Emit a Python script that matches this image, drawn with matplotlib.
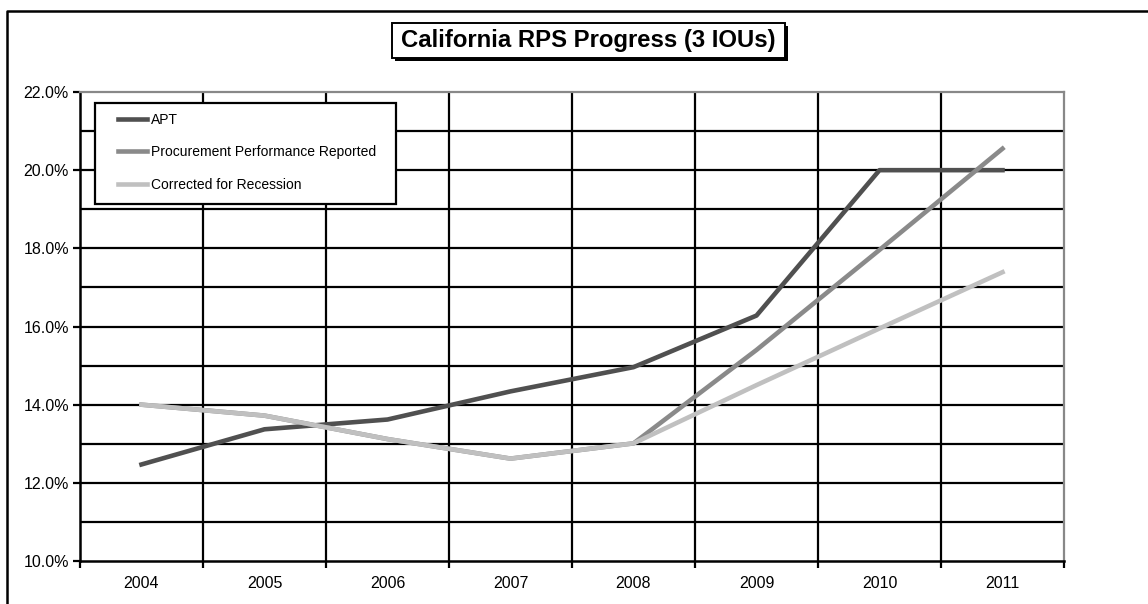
import numpy as np
import matplotlib.pyplot as plt
from matplotlib.lines import Line2D
from matplotlib.patches import Rectangle

plt.rcParams['font.family'] = ['Liberation Sans', 'DejaVu Sans']

years = ['2004', '2005', '2006', '2007', '2008', '2009', '2010', '2011']
apt = [12.47, 13.37, 13.62, 14.34, 14.96, 16.28, 20.0, 20.0]
procurement = [14.0, 13.72, 13.12, 12.62, 13.01, 15.4, 17.96, 20.55]
recession = [14.0, 13.72, 13.12, 12.62, 13.01, 14.5, 15.95, 17.39]

W, H = 1148, 604
fig = plt.figure(figsize=(W/100, H/100), dpi=100)
ax = fig.add_axes([80/W, 1-561/H, (1064-80)/W, (561-92)/H])

x = np.arange(len(years))
ax.plot(x, apt, color='#505050', lw=3.3, label='APT', zorder=5)
ax.plot(x, procurement, color='#8a8a8a', lw=3.3, label='Procurement Performance Reported', zorder=6)
ax.plot(x, recession, color='#c0c0c0', lw=3.3, label='Corrected for Recession', zorder=7)

ax.set_xlim(-0.5, len(years) - 0.5)
ax.set_ylim(10, 22)

# grid: horizontal every 1%, vertical at category boundaries
for yv in np.arange(11, 22, 1):
    ax.axhline(yv, color='black', lw=1.6, zorder=1)
for xv in np.arange(0.5, len(years) - 0.5, 1):
    ax.axvline(xv, color='black', lw=1.6, zorder=1)

ax.set_yticks(np.arange(10, 22.1, 2))
ax.set_yticklabels(['%.1f%%' % v for v in np.arange(10, 22.1, 2)], fontsize=11.5)
ax.set_xticks(np.arange(-0.5, len(years), 1))
ax.set_xticklabels([''] * (len(years) + 1))
ax.set_xticks(x, minor=True)
ax.set_xticklabels(years, minor=True, fontsize=11.5)
ax.tick_params(axis='x', which='minor', length=0, pad=11)
ax.tick_params(axis='both', which='major', direction='out', length=5, width=1.6, color='black')
ax.tick_params(axis='y', which='major', pad=3)

for s in ['left', 'bottom']:
    ax.spines[s].set_color('black')
    ax.spines[s].set_linewidth(1.8)
for s in ['top', 'right']:
    ax.spines[s].set_color('#888888')
    ax.spines[s].set_linewidth(1.6)

# legend: frame drawn separately so its size matches the reference
ax.add_artist(Rectangle((95/W, 1-204/H), (396-95)/W, (204-103)/H, transform=fig.transFigure,
                        facecolor='white', edgecolor='black', lw=1.6, zorder=9, clip_on=False))
leg = ax.legend(loc='upper left', bbox_to_anchor=(118/W, 1-113/H), bbox_transform=fig.transFigure,
                frameon=False, fontsize=10.0, handlelength=2.1, handletextpad=0.25,
                labelspacing=1.32, borderpad=0, borderaxespad=0)
leg.set_zorder(10)

# outer border (left and top only, rest cropped)
fig.add_artist(Line2D([7/W, 7/W, 1], [0, 1-11/H, 1-11/H], color='black', lw=1.8,
                      transform=fig.transFigure))

# title box with shadow
bx0, by0, bw, bh = 392/W, 1-58/H, (785-392)/W, (58-23)/H
fig.add_artist(Rectangle((bx0 + 3/W, by0 - 3/H), bw, bh, transform=fig.transFigure,
                         facecolor='black', edgecolor='black', lw=0))
fig.add_artist(Rectangle((bx0, by0), bw, bh, transform=fig.transFigure,
                         facecolor='white', edgecolor='black', lw=1.4))
fig.text(bx0 + bw/2, by0 + bh/2, 'California RPS Progress (3 IOUs)', ha='center', va='center',
         fontsize=17.2, fontweight='bold')

fig.savefig('out.png', dpi=100)
